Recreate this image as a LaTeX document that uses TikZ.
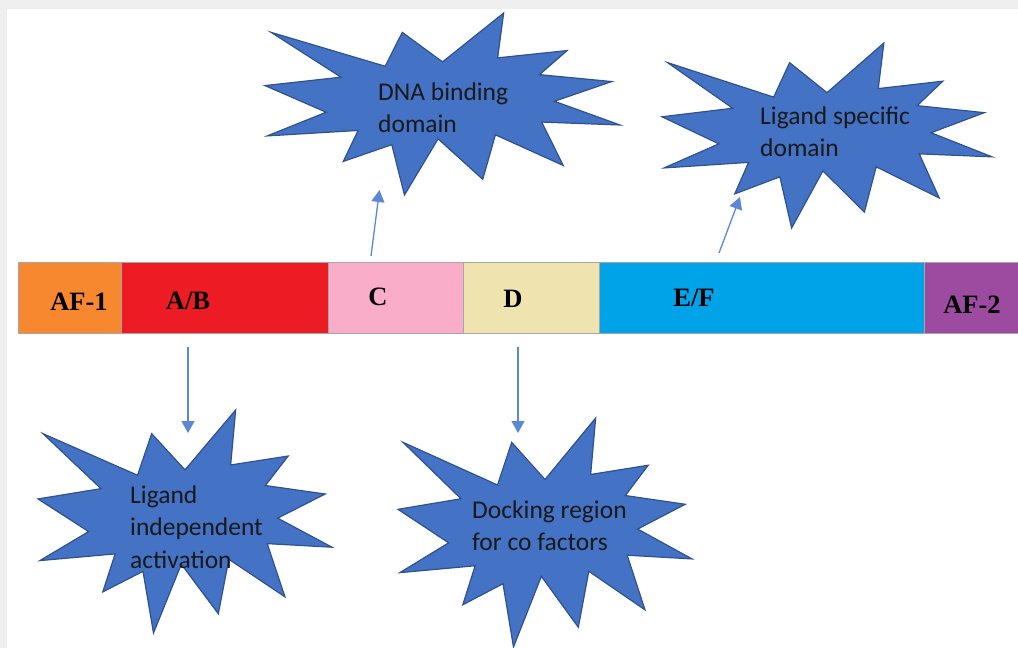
\documentclass[tikz,border=0pt]{standalone}
\usepackage{fontspec}
\setmainfont{Liberation Serif}
\newfontfamily\burstfont{Carlito}
\usetikzlibrary{arrows.meta}
\definecolor{bggray}{HTML}{EFEFEF}
\definecolor{cAF1}{HTML}{F7882F}
\definecolor{cAB}{HTML}{ED1C24}
\definecolor{cC}{HTML}{F9ADC9}
\definecolor{cD}{HTML}{EFE4B0}
\definecolor{cEF}{HTML}{00A2E8}
\definecolor{cAF2}{HTML}{9C4BA0}
\definecolor{burstfill}{HTML}{4472C4}
\definecolor{burstedge}{HTML}{2F528F}
\definecolor{arrowblue}{HTML}{5B87D6}
\tikzset{
  seg/.style={draw=gray!70, line width=0.8pt, anchor=north west, minimum height=71pt, inner sep=0pt, outer sep=0pt},
  seglabel/.style={font=\fontsize{26.5}{30}\selectfont\bfseries, anchor=base, inner sep=0pt},
  burstline/.style={fill=burstfill, draw=burstedge, line width=1.2pt, line join=miter},
  bursttext/.style={font=\burstfont\fontsize{25.5}{32.5}\selectfont, anchor=base west, inner sep=0pt, text=black!90},
  conn/.style={draw=arrowblue, line width=1.3pt, -{Triangle[length=12pt,width=13pt]}},
  burst/.pic={
    \path[burstline] (0.5,0.26852) -- (0.67231,0) -- (0.65532,0.24653) -- (0.85093,0.20634)
      -- (0.77324,0.33866) -- (0.97671,0.37671) -- (0.81514,0.48495) -- (1,0.61528)
      -- (0.77949,0.59917) -- (0.84005,0.83773) -- (0.64907,0.66931) -- (0.61329,0.91375)
      -- (0.48759,0.69144) -- (0.39282,1) -- (0.35718,0.72347) -- (0.22046,0.8156)
      -- (0.26236,0.64523) -- (0.00625,0.67532) -- (0.17231,0.54514) -- (0,0.39884)
      -- (0.21421,0.35264) -- (0.01713,0.10625) -- (0.33852,0.29259) -- (0.38667,0.10625) -- cycle;
  }
}
\begin{document}
\begin{tikzpicture}[x=1pt,y=-1pt]
\useasboundingbox (0,0) rectangle (1018,648);
\fill[bggray] (0,0) rectangle (1018,648);
\fill[white] (7,9) rectangle (1018,648);

% bar segments
\node[seg, fill=cAF1, minimum width=103pt] (af1) at (18,262) {};
\node[seg, fill=cAB,  minimum width=207pt] (ab)  at (121,262) {};
\node[seg, fill=cC,   minimum width=135pt] (c)   at (328,262) {};
\node[seg, fill=cD,   minimum width=136pt] (d)   at (463,262) {};
\node[seg, fill=cEF,  minimum width=325pt] (ef)  at (599,262) {};
\node[seg, fill=cAF2, minimum width=96pt]  (af2) at (924,262) {};

\node[seglabel] (laf1) at (79,310) {AF-1};
\node[seglabel] (lab)  at (188,309) {A/B};
\node[seglabel] (lc)   at (378,305) {C};
\node[seglabel] (ld)   at (513,307) {D};
\node[seglabel] (lef)  at (694,306) {E/F};
\node[seglabel] (laf2) at (972,313) {AF-2};

% starbursts
\pic[shift={(265,13)},  xscale=355, yscale=182] {burst};
\pic[shift={(662,43)},  xscale=330, yscale=185] {burst};
\pic[shift={(38,410)},  xscale=294, yscale=223] {burst};
\pic[shift={(398,418)}, xscale=294, yscale=229] {burst};

\node[bursttext] (dna) at (378,100) {\begin{tabular}[t]{@{}l@{}}DNA binding\\domain\end{tabular}};
\node[bursttext] (lsd) at (760,124) {\begin{tabular}[t]{@{}l@{}}Ligand specific\\domain\end{tabular}};
\node[bursttext] (lia) at (130,503) {\begin{tabular}[t]{@{}l@{}}Ligand\\independent\\activation\end{tabular}};
\node[bursttext] (dock) at (472,518) {\begin{tabular}[t]{@{}l@{}}Docking region\\for co factors\end{tabular}};

% connectors
\coordinate (cfrom) at (371,256);
\coordinate (cto) at (379.5,190);
\coordinate (effrom) at (719,253);
\coordinate (efto) at (740,197);
\coordinate (abfrom) at (188,347);
\coordinate (abto) at (188,433);
\coordinate (dfrom) at (518,347);
\coordinate (dto) at (518,433);
\draw[conn] (cfrom) -- (cto);
\draw[conn] (effrom) -- (efto);
\draw[conn] (abfrom) -- (abto);
\draw[conn] (dfrom) -- (dto);
\end{tikzpicture}
\end{document}
